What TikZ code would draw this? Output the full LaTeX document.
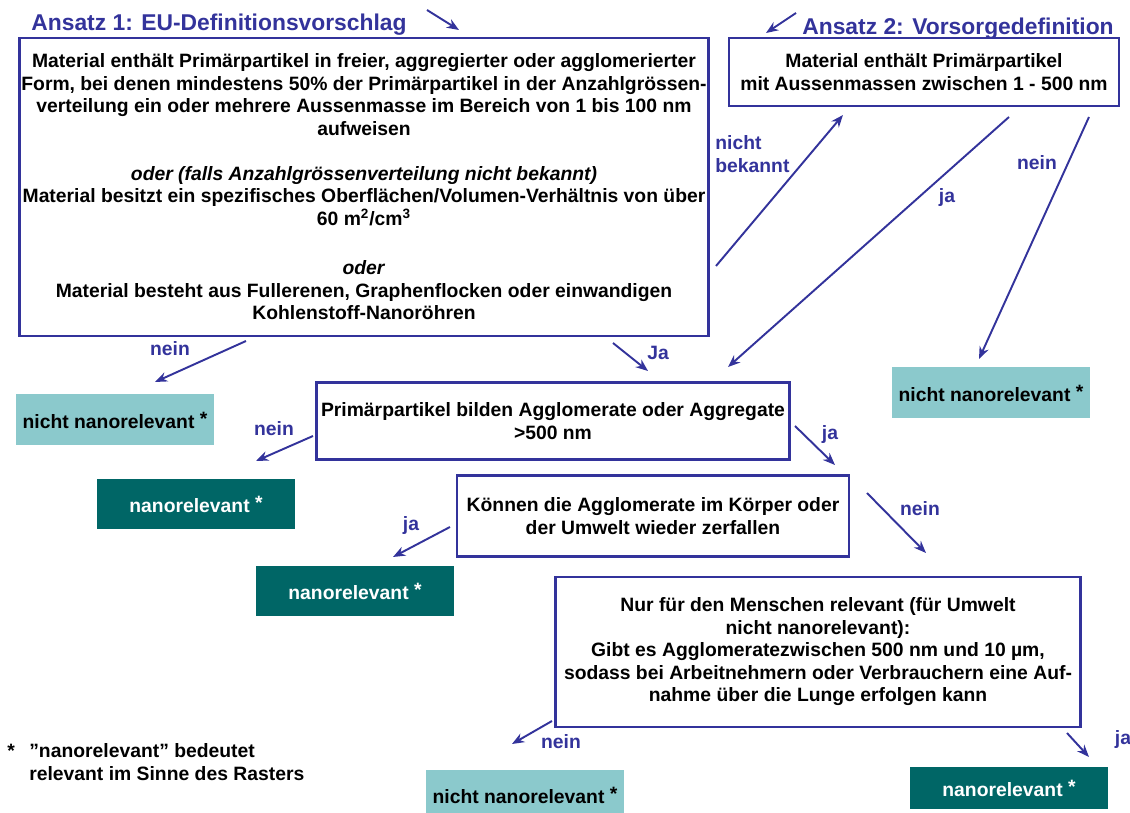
\documentclass[tikz,border=0pt]{standalone}
\usepackage{fontspec}
\setmainfont{Liberation Sans}
\usetikzlibrary{
  arrows.meta,
  positioning,
}
\definecolor{rasterblau}{RGB}{51,51,155}
\definecolor{hellteal}{RGB}{139,201,204}
\definecolor{dunkelteal}{RGB}{0,102,102}
\newcommand{\txt}{\fontsize{11}{12.8}\selectfont\bfseries}
\newcommand{\stern}{\ \raisebox{0.3ex}{*}}

\tikzset{
  frage/.style={draw=rasterblau, line width=1.4pt, align=center, font=\txt, inner sep=1pt},
  hell/.style={fill=hellteal, minimum width=3.96cm, minimum height=1.02cm, font=\txt},
  dunkel/.style={fill=dunkelteal, text=white, minimum width=3.96cm, minimum height=1.0cm, font=\txt},
  pfeil/.style={rasterblau, line width=1.1pt, -{Stealth[length=7pt,width=5.5pt]}},
  marke/.style={text=rasterblau, font=\txt, inner sep=0pt},
  titel/.style={text=rasterblau, font=\fontsize{13}{15}\selectfont\bfseries, inner sep=0pt},
}

\begin{document}
\begin{tikzpicture}[x=0.02cm, y=-0.02cm]
\useasboundingbox (0,0) rectangle (1130,813);

\node[titel] (titelA) at (219,25) {Ansatz 1: EU-Definitionsvorschlag};
\node[titel] (titelB) at (958,29) {Ansatz 2: Vorsorgedefinition};

\node[frage, minimum width=13.76cm, minimum height=5.96cm] (eu) at (364,187)
  {Material enthält Primärpartikel in freier, aggregierter oder agglomerierter\\
   Form, bei denen mindestens 50\% der Primärpartikel in der Anzahlgrössen-\\
   verteilung ein oder mehrere Aussenmasse im Bereich von 1 bis 100 nm\\
   aufweisen\\[12.8pt]
   \textit{oder (falls Anzahlgrössenverteilung nicht bekannt)}\\
   Material besitzt ein spezifisches Oberflächen/Volumen-Verhältnis von über\\
   60 m\textsuperscript{2}/cm\textsuperscript{3}\\[15.5pt]
   \textit{oder}\\
   Material besteht aus Fullerenen, Graphenflocken oder einwandigen\\
   Kohlenstoff-Nanoröhren};

\node[frage, minimum width=7.8cm, minimum height=1.36cm] (vor) at (924,72)
  {Material enthält Primärpartikel\\ mit Aussenmassen zwischen 1 - 500 nm};

\node[frage, minimum width=9.46cm, minimum height=1.54cm] (agg) at (553,421)
  {Primärpartikel bilden Agglomerate oder Aggregate\\ >500 nm};

\node[frage, minimum width=7.84cm, minimum height=1.62cm] (zerf) at (653,516)
  {Können die Agglomerate im Körper oder\\ der Umwelt wieder zerfallen};

\node[frage, minimum width=10.5cm, minimum height=3.0cm] (lunge) at (818,652)
  {Nur für den Menschen relevant (für Umwelt\\
   nicht nanorelevant):\\
   Gibt es Agglomeratezwischen 500 nm und 10 µm,\\
   sodass bei Arbeitnehmern oder Verbrauchern eine Auf-\\
   nahme über die Lunge erfolgen kann};

\node[hell] (nnrA) at (115,420) {nicht nanorelevant\stern};
\node[hell] (nnrB) at (991,393) {nicht nanorelevant\stern};
\node[hell] (nnrC) at (525,795) {nicht nanorelevant\stern};
\node[dunkel] (nrA) at (196,504) {nanorelevant\stern};
\node[dunkel] (nrB) at (355,591) {nanorelevant\stern};
\node[dunkel, minimum height=0.84cm] (nrC) at (1009,788) {nanorelevant\stern};

\node[anchor=west, align=left, font=\txt, inner sep=0pt] (fussnote) at (7,762)
  {\makebox[12.5pt][l]{*}”nanorelevant” bedeutet\\
   \hspace*{12.5pt}relevant im Sinne des Rasters};

\coordinate (titelApfeil) at (427,10);
\coordinate (euOben) at (459,30);
\coordinate (titelBpfeil) at (796,13);
\coordinate (vorOben) at (766,33);
\coordinate (euBekannt) at (716,266);
\coordinate (vorUnten) at (843,115);
\coordinate (vorJa) at (1009,117);
\coordinate (aggOben) at (728,367);
\coordinate (vorNein) at (1089,117);
\coordinate (nnrBOben) at (979,359);
\coordinate (euNein) at (246,341);
\coordinate (nnrAOben) at (155,382);
\coordinate (euJa) at (613,343);
\coordinate (aggLinks) at (648,371);
\coordinate (aggNein) at (313,436);
\coordinate (nrAOben) at (256,461);
\coordinate (aggJa) at (795,426);
\coordinate (zerfOben) at (835,465);
\coordinate (zerfJa) at (450,527);
\coordinate (nrBOben) at (393,557);
\coordinate (zerfNein) at (867,493);
\coordinate (lungeOben) at (926,553);
\coordinate (lungeNein) at (552,721);
\coordinate (nnrCOben) at (512,744);
\coordinate (lungeJa) at (1067,733);
\coordinate (nrCOben) at (1089,757);

\draw[pfeil] (titelApfeil) -- (euOben);
\draw[pfeil] (titelBpfeil) -- (vorOben);
\draw[pfeil] (euBekannt) -- (vorUnten);
\draw[pfeil] (vorJa) -- (aggOben);
\draw[pfeil] (vorNein) -- (nnrBOben);
\draw[pfeil] (euNein) -- (nnrAOben);
\draw[pfeil] (euJa) -- (aggLinks);
\draw[pfeil] (aggNein) -- (nrAOben);
\draw[pfeil] (aggJa) -- (zerfOben);
\draw[pfeil] (zerfJa) -- (nrBOben);
\draw[pfeil] (zerfNein) -- (lungeOben);
\draw[pfeil] (lungeNein) -- (nnrCOben);
\draw[pfeil] (lungeJa) -- (nrCOben);

\node[marke, anchor=west, align=left] (lBekannt) at (715,154) {nicht\\bekannt};
\node[marke] (lVorJa) at (947,198) {ja};
\node[marke] (lVorNein) at (1037,163) {nein};
\node[marke] (lEuNein) at (170,349) {nein};
\node[marke] (lEuJa) at (658,353) {Ja};
\node[marke] (lAggNein) at (274,429) {nein};
\node[marke] (lAggJa) at (830,435) {ja};
\node[marke] (lZerfJa) at (411,526) {ja};
\node[marke] (lZerfNein) at (920,509) {nein};
\node[marke] (lLungeNein) at (561,742) {nein};
\node[marke] (lLungeJa) at (1123,740) {ja};
\end{tikzpicture}
\end{document}
